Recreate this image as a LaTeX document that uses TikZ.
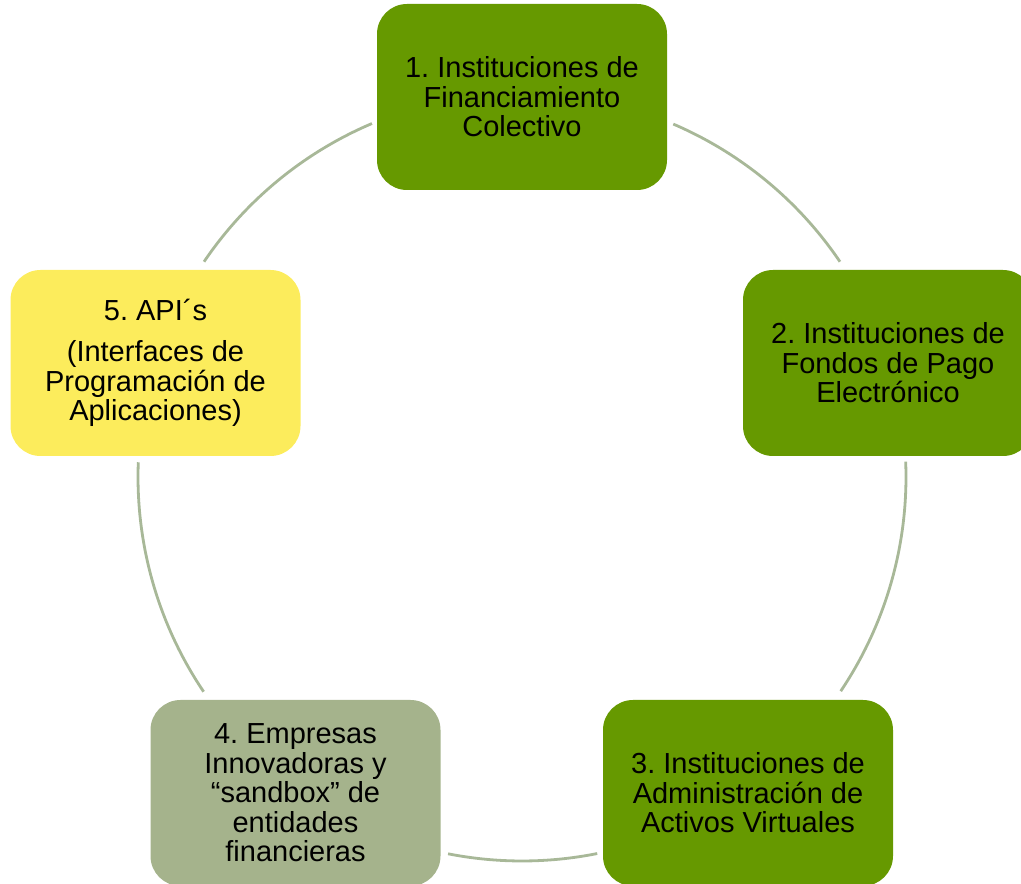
\documentclass[tikz,border=0pt]{standalone}
\usepackage{fontspec}
\setmainfont{Liberation Sans}
\frenchspacing
\definecolor{boxgreen}{HTML}{669900}
\definecolor{boxsage}{HTML}{A5B38C}
\definecolor{boxyellow}{HTML}{FCEC5C}
\definecolor{arccol}{HTML}{A8B898}
\begin{document}
\begin{tikzpicture}[x=1pt,y=1pt,
  item/.style={rounded corners=30pt, minimum width=290pt, minimum height=186pt,
    inner sep=0pt, align=center, text=black,
    font=\fontsize{29}{29.5}\selectfont\frenchspacing},
  ring/.style={draw=arccol, line width=2.8pt}]
\useasboundingbox (0,0) rectangle (1021,884);
\clip (0,0) rectangle (1021,884);
\coordinate (c) at (522,407);
\draw[ring] (c) ++(113:384pt) arc[start angle=113, end angle=145.9, radius=384pt];
\draw[ring] (c) ++(34.1:384pt) arc[start angle=34.1, end angle=66.8, radius=384pt];
\draw[ring] (c) ++(-33.9:384pt) arc[start angle=-33.9, end angle=2.3, radius=384pt];
\draw[ring] (c) ++(-101.1:384pt) arc[start angle=-101.1, end angle=-78.7, radius=384pt];
\draw[ring] (c) ++(177.8:384pt) arc[start angle=177.8, end angle=214, radius=384pt];
\node[item, fill=boxgreen] (n1) at (522,787) {1. Instituciones de\\Financiamiento\\Colectivo};
\node[item, fill=boxgreen] (n2) at (888,521) {2. Instituciones de\\Fondos de Pago\\Electrónico};
\node[item, fill=boxgreen] (n3) at (748,91) {3. Instituciones de\\Administración de\\Activos Virtuales};
\node[item, fill=boxsage] (n4) at (295.5,91) {4. Empresas\\Innovadoras y\\“sandbox” de\\entidades\\financieras};
\node[item, fill=boxyellow] (n5) at (155.5,521) {5. API´s\\[12pt](Interfaces de\\Programación de\\Aplicaciones)};
\end{tikzpicture}
\end{document}
